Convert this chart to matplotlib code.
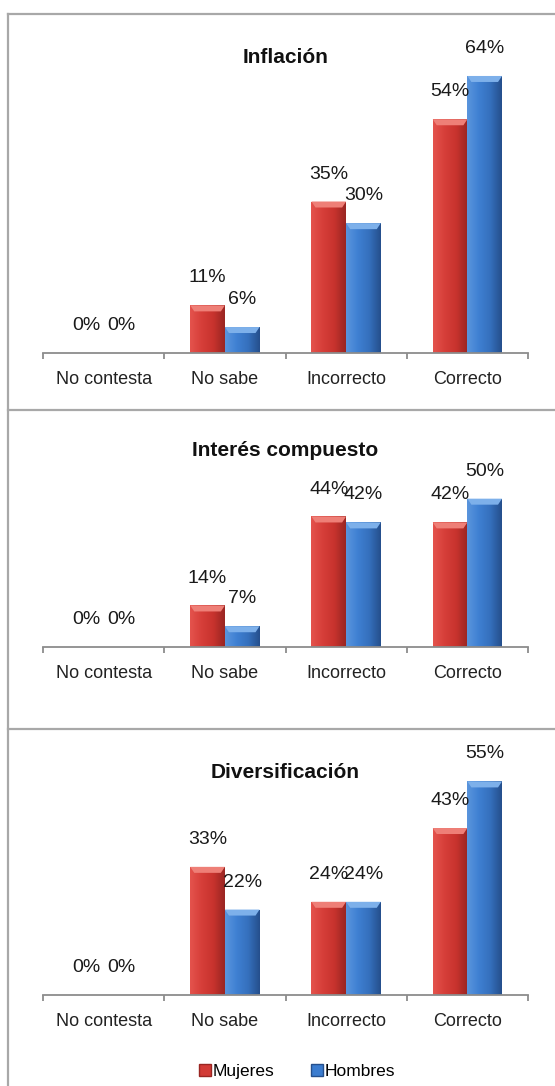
"""
Conocimientos financieros por sexo
Tres paneles de barras: Inflación, Interés compuesto, Diversificación
"""

import numpy as np
import matplotlib
matplotlib.use("Agg")
import matplotlib.pyplot as plt
from matplotlib.colors import LinearSegmentedColormap
from matplotlib.lines import Line2D
from matplotlib.patches import Polygon

plt.rcParams["font.family"] = ["Liberation Sans", "DejaVu Sans"]

# ==========================
# Data
# ==========================

categories = ["No contesta", "No sabe", "Incorrecto", "Correcto"]
series_names = ["Mujeres", "Hombres"]

inflacion_mujeres = [0, 11, 35, 54]
inflacion_hombres = [0, 6, 30, 64]

interes_mujeres = [0, 14, 44, 42]
interes_hombres = [0, 7, 42, 50]

diversificacion_mujeres = [0, 33, 24, 43]
diversificacion_hombres = [0, 22, 24, 55]

panel_titles = ["Inflación", "Interés compuesto", "Diversificación"]

# ==========================
# Layout (pixels of a 555 x 1086 canvas)
# ==========================

W, H = 555, 1086
AXIS_LEFT, AXIS_RIGHT = 43, 528

# baseline pixel, axis max (%), axes height in px, title baseline px
PANELS = [
    (353, 70, 303, 63),
    (647, 60, 178, 456),
    (995, 60, 233, 778),
]

RED = "#D23B36"
BLUE = "#3B7CCF"
RED_SHADES = ["#E4534D", "#D63E39", "#C8332E", "#9A2622"]
BLUE_SHADES = ["#5A95DD", "#3F80D2", "#3570BD", "#254F8C"]
RED_TOP = "#EE7F77"
BLUE_TOP = "#7DB0EA"
AXIS_GRAY = "#8c8c8c"


def fy(py):
    return 1 - py / H


def shade_bar(ax, bar, shades, top_color):
    x0 = bar.get_x()
    w = bar.get_width()
    h = bar.get_height()
    if h <= 0:
        return

    cmap = LinearSegmentedColormap.from_list("bar", shades)
    grad = np.linspace(0, 1, 64).reshape(1, -1)
    im = ax.imshow(grad, cmap=cmap, extent=(x0, x0 + w, 0, h),
                   aspect="auto", zorder=2.1, interpolation="bilinear")
    im.set_clip_path(bar)

    # bevel on top of the bar
    y_per_px = (ax.get_ylim()[1] - ax.get_ylim()[0]) / ax.bbox.height
    x_per_px = (ax.get_xlim()[1] - ax.get_xlim()[0]) / ax.bbox.width
    bev = min(6 * y_per_px, h)
    inset = 4 * x_per_px
    top = Polygon([(x0, h), (x0 + w, h), (x0 + w - inset, h - bev),
                   (x0 + inset, h - bev)], closed=True,
                  facecolor=top_color, edgecolor="none", zorder=2.2)
    ax.add_patch(top)


def draw_panel(fig, spec, title, mujeres, hombres):

    baseline, ymax, height_px, title_y = spec

    ax = fig.add_axes([AXIS_LEFT / W, fy(baseline),
                       (AXIS_RIGHT - AXIS_LEFT) / W, height_px / H])

    x = np.arange(len(categories))
    width = 1 / 3.5

    ax.set_xlim(-0.5, len(categories) - 0.5)
    ax.set_ylim(0, ymax)

    bars_m = ax.bar(x - width / 2, mujeres, width, color=RED, zorder=2)
    bars_h = ax.bar(x + width / 2, hombres, width, color=BLUE, zorder=2)

    for bar in bars_m:
        shade_bar(ax, bar, RED_SHADES, RED_TOP)
    for bar in bars_h:
        shade_bar(ax, bar, BLUE_SHADES, BLUE_TOP)

    ax.set_xlim(-0.5, len(categories) - 0.5)
    ax.set_ylim(0, ymax)

    for bars, values in [(bars_m, mujeres), (bars_h, hombres)]:
        for bar, v in zip(bars, values):
            ax.annotate(f"{v}%",
                        (bar.get_x() + bar.get_width() / 2, bar.get_height()),
                        xytext=(0, 16.5), textcoords="offset points",
                        ha="center", va="baseline", fontsize=14,
                        color="#1a1a1a", zorder=5)

    for side in ["top", "right", "left"]:
        ax.spines[side].set_visible(False)
    ax.spines["bottom"].set_color(AXIS_GRAY)
    ax.spines["bottom"].set_linewidth(1.3)

    ax.set_yticks([])
    ax.set_xticks(x)
    ax.set_xticklabels(categories, fontsize=13, color="#222222")
    ax.tick_params(axis="x", which="major", length=0, pad=13)
    ax.set_xticks(np.arange(-0.5, len(categories)), minor=True)
    ax.tick_params(axis="x", which="minor", length=4.5, width=1.3,
                   color=AXIS_GRAY, direction="out")
    ax.patch.set_alpha(0)

    fig.text((AXIS_LEFT + AXIS_RIGHT) / 2 / W, fy(title_y), title,
             ha="center", va="baseline", fontsize=15, fontweight="bold",
             color="#111111")

    return ax


def main():

    fig = plt.figure(figsize=(W / 100, H / 100), dpi=100)

    data = [
        (inflacion_mujeres, inflacion_hombres),
        (interes_mujeres, interes_hombres),
        (diversificacion_mujeres, diversificacion_hombres),
    ]

    for spec, title, (m, h) in zip(PANELS, panel_titles, data):
        draw_panel(fig, spec, title, m, h)

    # ==========================
    # Frame lines
    # ==========================

    frame = dict(color="#a8a8a8", linewidth=1.6, transform=fig.transFigure)
    fig.add_artist(Line2D([8 / W, 8 / W], [fy(14), 0], **frame))
    for py in [14, 410, 729]:
        fig.add_artist(Line2D([8 / W, 1], [fy(py), fy(py)], **frame))

    # ==========================
    # Legend
    # ==========================

    handles = [
        Line2D([], [], marker="s", linestyle="none", markersize=8,
               markerfacecolor=RED, markeredgecolor="#9A2622"),
        Line2D([], [], marker="s", linestyle="none", markersize=8,
               markerfacecolor=BLUE, markeredgecolor="#254F8C"),
    ]
    fig.legend(handles, series_names, loc="center",
               bbox_to_anchor=(297 / W, fy(1071)), ncol=2, frameon=False,
               fontsize=12.5, handlelength=0.7, handletextpad=0.1,
               columnspacing=2.1)

    fig.savefig("out.png", dpi=100)


if __name__ == "__main__":
    main()
